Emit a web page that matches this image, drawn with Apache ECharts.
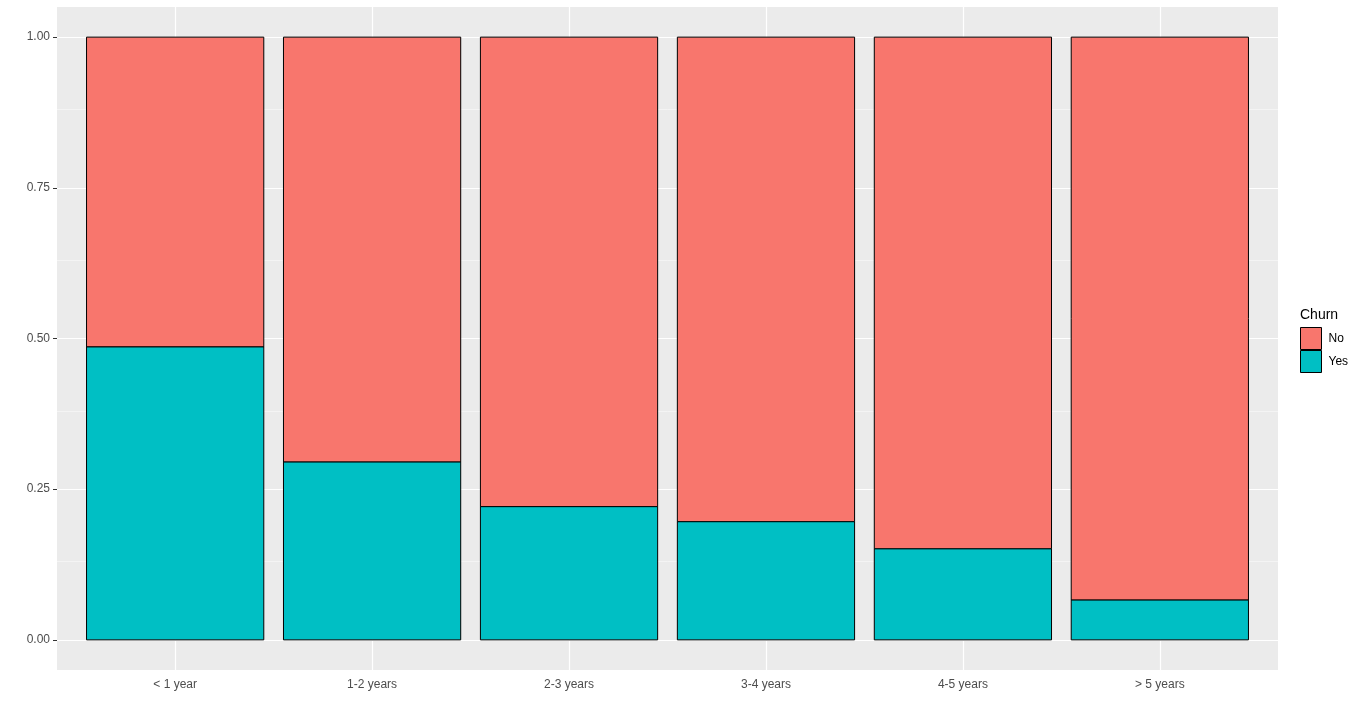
<!DOCTYPE html>
<html>
<head>
<meta charset="utf-8">
<script src="https://cdn.jsdelivr.net/npm/echarts@6/dist/echarts.min.js"></script>
<style>
  * { margin: 0; padding: 0; }
  html, body { width: 1366px; height: 715px; background: #fff; }
</style>
</head>
<body>
<div id="main" style="width:1366px;height:715px;"></div>
<script>
// categories and proportions
var categories = ['< 1 year', '1-2 years', '2-3 years', '3-4 years', '4-5 years', '> 5 years'];
var churnYes = [0.486, 0.295, 0.221, 0.196, 0.151, 0.066];
var churnNo = [0.514, 0.705, 0.779, 0.804, 0.849, 0.934];
var yTicks = [0, 0.25, 0.5, 0.75, 1];
var yMinor = [0.125, 0.375, 0.625, 0.875];

var xPos = categories.map(function (c, i) { return i + 1; });

var chart = echarts.init(document.getElementById('main'));

// draws one segment of a stacked bar, from base up to base + value
function segment(params, api) {
  var x = api.value(0);
  var base = api.value(2);
  var top = base + api.value(1);
  var p0 = api.coord([x - 0.45, top]);
  var p1 = api.coord([x + 0.45, base]);
  return {
    type: 'rect',
    shape: { x: p0[0], y: p0[1], width: p1[0] - p0[0], height: p1[1] - p0[1] },
    style: api.style()
  };
}

var gridLines = [];
yTicks.forEach(function (v) { gridLines.push({ yAxis: v, lineStyle: { color: '#fff', width: 1.2, type: 'solid' } }); });
yMinor.forEach(function (v) { gridLines.push({ yAxis: v, lineStyle: { color: '#fafafa', width: 0.6, type: 'solid' } }); });
xPos.forEach(function (v) { gridLines.push({ xAxis: v, lineStyle: { color: '#fff', width: 1.2, type: 'solid' } }); });

chart.setOption({
  animation: false,
  textStyle: { fontFamily: 'Liberation Sans, Arial, sans-serif' },
  title: {
    text: 'Churn',
    left: 1300,
    top: 308,
    padding: 0,
    textStyle: { fontSize: 14, fontWeight: 'normal', color: '#000' }
  },
  legend: {
    orient: 'vertical',
    left: 1300,
    top: 327,
    padding: 0,
    itemWidth: 21,
    itemHeight: 22,
    itemGap: 0,
    icon: 'rect',
    data: ['No', 'Yes'],
    itemStyle: { borderColor: '#000', borderWidth: 1 },
    textStyle: { fontSize: 12, color: '#000', padding: [0, 0, 0, 2] }
  },
  grid: {
    left: 57, right: 88, top: 7, bottom: 45,
    show: true, backgroundColor: '#EBEBEB', borderWidth: 0
  },
  xAxis: {
    type: 'value',
    min: 0.4,
    max: 6.6,
    axisLine: { show: false },
    splitLine: { show: false },
    axisTick: { show: true, length: 4, lineStyle: { color: '#333' }, customValues: xPos },
    axisLabel: {
      customValues: xPos,
      color: '#4D4D4D',
      fontSize: 12,
      margin: 9,
      formatter: function (v) { return categories[Math.round(v) - 1]; }
    }
  },
  yAxis: {
    type: 'value',
    min: -0.05,
    max: 1.05,
    axisLine: { show: false },
    splitLine: { show: false },
    axisTick: { show: true, length: 4, lineStyle: { color: '#333' }, customValues: yTicks },
    axisLabel: {
      customValues: yTicks,
      color: '#4D4D4D',
      fontSize: 12,
      margin: 7,
      formatter: function (v) { return v.toFixed(2); }
    }
  },
  series: [
    {
      type: 'line',
      data: [],
      z: 1,
      silent: true,
      markLine: { silent: true, z: 1, symbol: 'none', label: { show: false }, animation: false, data: gridLines }
    },
    {
      name: 'No',
      type: 'custom',
      z: 3,
      renderItem: segment,
      itemStyle: { color: '#F8766D', borderColor: '#000', borderWidth: 1 },
      data: xPos.map(function (x, i) { return [x, churnNo[i], churnYes[i]]; })
    },
    {
      name: 'Yes',
      type: 'custom',
      z: 3,
      renderItem: segment,
      itemStyle: { color: '#00BFC4', borderColor: '#000', borderWidth: 1 },
      data: xPos.map(function (x, i) { return [x, churnYes[i], 0]; })
    }
  ]
});
</script>
</body>
</html>
